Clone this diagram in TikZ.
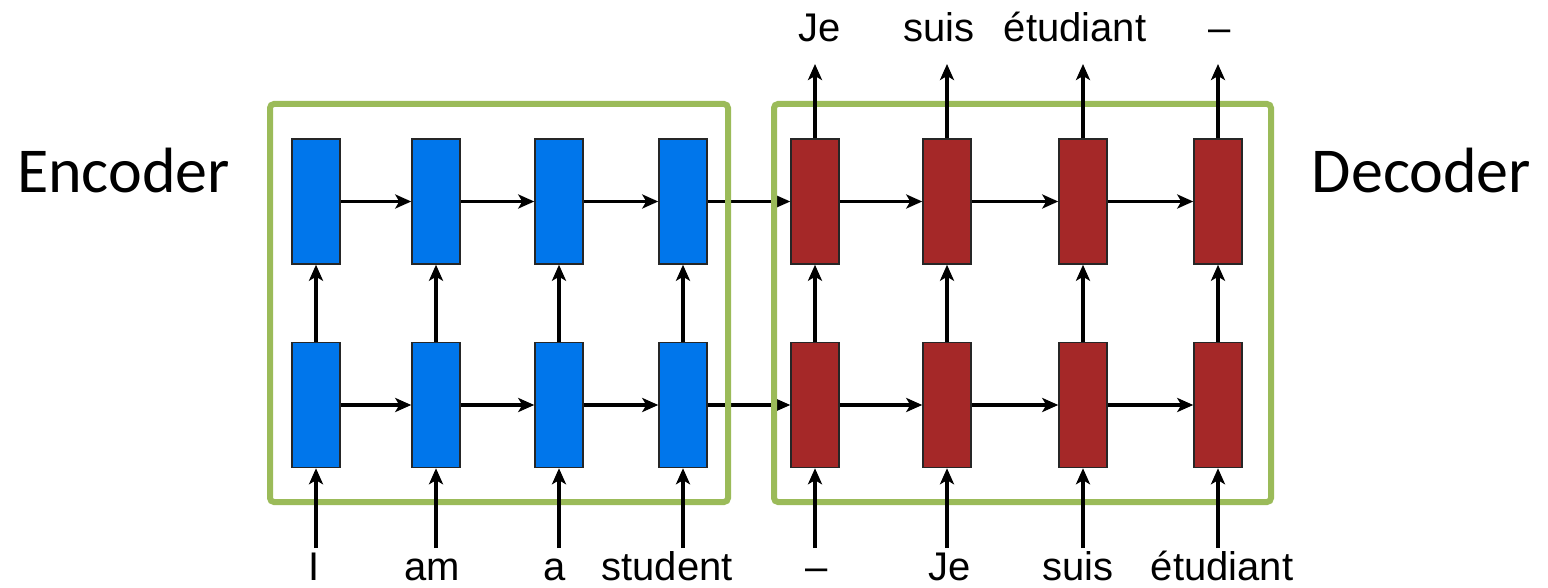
\documentclass[tikz,border=0pt]{standalone}
\usepackage{fontspec}
\setmainfont{Liberation Sans}
\newfontfamily\calibri{Carlito}
\usetikzlibrary{arrows.meta}
\definecolor{encblue}{RGB}{0,118,235}
\definecolor{decred}{RGB}{165,40,40}
\definecolor{framegreen}{RGB}{155,187,89}

\begin{document}
\begin{tikzpicture}[x=0.5pt,y=-0.5pt,
	cell/.style={draw=black!85, line width=0.75pt, minimum width=24pt, minimum height=62.5pt, inner sep=0pt},
	word/.style={font=\fontsize{20}{24}\selectfont, inner sep=0pt, anchor=base},
	side/.style={font=\calibri\fontsize{32}{38}\selectfont, inner sep=0pt, anchor=base},
	frame/.style={draw=framegreen, line width=3pt, rounded corners=2pt},
	>={Stealth[length=8pt,width=7pt,inset=2pt]}, line width=1.6pt]
		\useasboundingbox (0,0) rectangle (1548,588);
		% encoder and decoder cells, two layers
		\foreach \x [count=\i] in {316,436,559,683}{
			\node[cell, fill=encblue] (eb\i) at (\x,405) {};
			\node[cell, fill=encblue] (et\i) at (\x,201.5) {};
			\coordinate (ein\i) at (\x,548);
		}
		\foreach \x [count=\i] in {815,947,1083,1218}{
			\node[cell, fill=decred] (db\i) at (\x,405) {};
			\node[cell, fill=decred] (dt\i) at (\x,201.5) {};
			\coordinate (din\i) at (\x,548);
			\coordinate (dout\i) at (\x,64);
		}
		% state passed from encoder to decoder
		\draw[->](eb4)--(db1);
		\draw[->](et4)--(dt1);
		\draw[frame](270,104) rectangle (728,502);
		\draw[frame](774,104) rectangle (1271,502);
		% arrows inside each block
		\foreach \i/\j in {1/2,2/3,3/4}{
			\draw[->](eb\i)--(eb\j);
			\draw[->](et\i)--(et\j);
			\draw[->](db\i)--(db\j);
			\draw[->](dt\i)--(dt\j);
		}
		\foreach \i in {1,...,4}{
			\draw[->](eb\i)--(et\i);
			\draw[->](db\i)--(dt\i);
			\draw[->](ein\i)--(eb\i);
			\draw[->](din\i)--(db\i);
			\draw[->](dt\i)--(dout\i);
		}
		% words
		\foreach \x/\w [count=\i] in {314/I,432/am,555/a,667/student}
			\node[word] (src\i) at (\x,580) {\w};
		\foreach \x/\w [count=\i] in {817/--,950/Je,1078/suis,1222/étudiant}
			\node[word] (tin\i) at (\x,580) {\w};
		\foreach \x/\w [count=\i] in {820/Je,939/suis,1075/étudiant,1220/--}
			\node[word] (tout\i) at (\x,42) {\w};
		\node[side] (enc) at (123.5,193) {Encoder};
		\node[side] (dec) at (1421.5,193) {Decoder};
		\end{tikzpicture}
\end{document}
